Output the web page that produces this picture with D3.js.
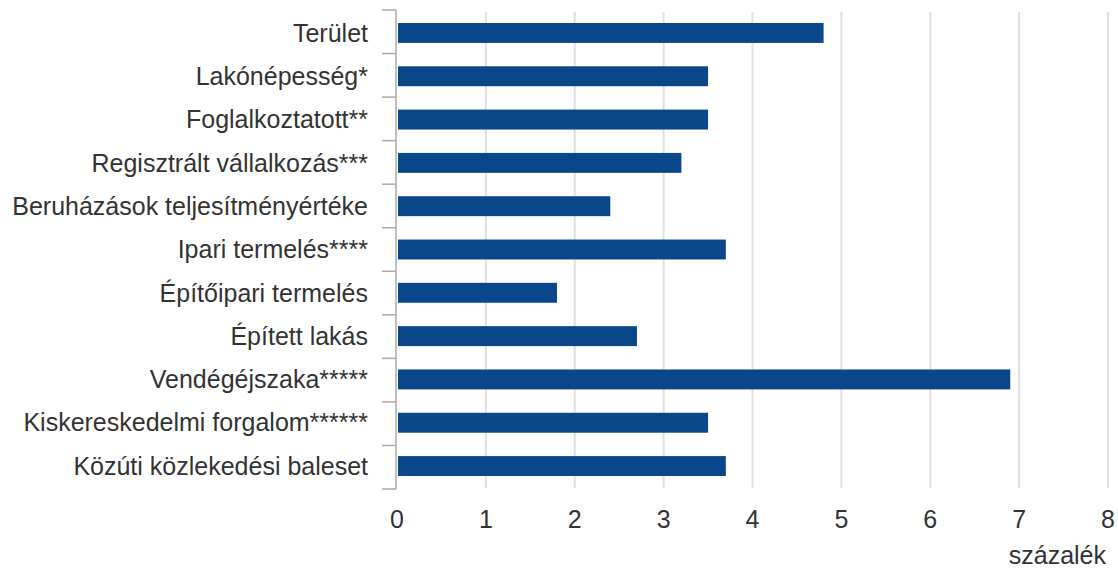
<html>
<head>
  <meta charset="utf-8">
  <script src="https://d3js.org/d3.v7.min.js"></script>
  <style>
  body { margin: 0; background: #fff; }
  text { font-family: "Liberation Sans", Arial, sans-serif; fill: #333; }
  </style>
</head>
<body>
  <div id="chart"></div>
  <script>
    // adatok
    var categories = ["Terület", "Lakónépesség*", "Foglalkoztatott**", "Regisztrált vállalkozás***",
      "Beruházások teljesítményértéke", "Ipari termelés****", "Építőipari termelés", "Épített lakás",
      "Vendégéjszaka*****", "Kiskereskedelmi forgalom******", "Közúti közlekedési baleset"];
    var values = [4.8, 3.5, 3.5, 3.2, 2.4, 3.7, 1.8, 2.7, 6.9, 3.5, 3.7];
    var xTicks = [0, 1, 2, 3, 4, 5, 6, 7, 8];
    var unitLabel = "százalék";

    var svg = d3.select("#chart").append("svg")
      .attr("width", 1118).attr("height", 572);

    var x = d3.scaleLinear().domain([0, 8]).range([397, 1108]);
    var y = d3.scaleBand().domain(categories).range([10, 489]).paddingInner(0.54).paddingOuter(0.3);

    // racsvonalak
    svg.selectAll("line.grid").data(xTicks.slice(1)).enter().append("line")
      .attr("class", "grid")
      .attr("x1", function(d){ return x(d); }).attr("x2", function(d){ return x(d); })
      .attr("y1", 12).attr("y2", 488)
      .attr("stroke", "#e0e0e0").attr("stroke-width", 2);

    // oszlopok
    svg.selectAll("rect.bar").data(values).enter().append("rect")
      .attr("class", "bar")
      .attr("x", x(0) + 1)
      .attr("y", function(d, i){ return y(categories[i]); })
      .attr("width", function(d){ return x(d) - x(0) - 1; })
      .attr("height", y.bandwidth())
      .attr("fill", "#0a468a");

    // y tengely
    var step = (489 - 10) / categories.length;
    var bounds = d3.range(categories.length + 1).map(function(i){ return 10 + i * step; });
    svg.append("line").attr("x1", 396).attr("x2", 396).attr("y1", 10).attr("y2", 489)
      .attr("stroke", "#aaa").attr("stroke-width", 1.5);
    svg.selectAll("line.ytick").data(bounds).enter().append("line")
      .attr("class", "ytick")
      .attr("x1", 382).attr("x2", 396)
      .attr("y1", function(d){ return d; }).attr("y2", function(d){ return d; })
      .attr("stroke", "#aaa").attr("stroke-width", 1.5);

    svg.selectAll("text.cat").data(categories).enter().append("text")
      .attr("class", "cat")
      .attr("x", 368)
      .attr("y", function(d){ return y(d) + y.bandwidth() / 2; })
      .attr("dy", "0.35em")
      .attr("text-anchor", "end")
      .style("font-size", "25px")
      .text(function(d){ return d; });

    // x tengely feliratok
    svg.selectAll("text.xt").data(xTicks).enter().append("text")
      .attr("class", "xt")
      .attr("x", function(d){ return x(d); })
      .attr("y", 519)
      .attr("dy", "0.35em")
      .attr("text-anchor", "middle")
      .style("font-size", "25px")
      .text(function(d){ return d; });

    svg.append("text")
      .attr("x", 1106).attr("y", 555).attr("dy", "0.35em")
      .attr("text-anchor", "end")
      .style("font-size", "25px")
      .text(unitLabel);
  </script>
</body>
</html>
